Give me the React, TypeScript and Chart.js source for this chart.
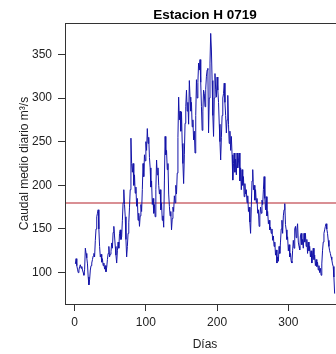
import { useEffect, useRef } from "react";
import { Chart, registerables } from "chart.js";

Chart.register(...registerables);

const TITLE = "Estacion H 0719";
const X_LABEL = "Días";
const Y_LABEL = "Caudal medio diario m³/s";
const X_TICKS = [0, 100, 200, 300];
const Y_TICKS = [100, 150, 200, 250, 300, 350];
const MEAN_LINE = 179.7;

// daily mean discharge, days 1..365
const CAUDAL = [
  110, 116, 108, 104, 100, 103, 107, 109, 105, 107, 103, 100, 97, 104, 128, 122, 117, 110, 95, 86,
  92, 103, 108, 111, 115, 119, 122, 118, 137, 150, 164, 168, 172, 150, 130,
  118, 121, 112, 116, 108, 111, 104, 108, 101, 106, 115, 122, 130, 118, 121,
  124, 134, 128, 146, 153, 142, 130, 120, 111, 125, 135, 128, 145, 149, 138,
  141, 160, 180, 195, 178, 164, 138, 118, 130, 145, 157, 175, 195, 254, 225,
  215, 225, 200, 212, 191, 198, 176, 185, 160, 168, 153, 165, 178, 170, 195,
  225, 210, 235, 228, 250, 240, 265, 248, 255, 232, 220, 198, 205, 178, 185,
  168, 178, 164, 195, 229, 212, 220, 200, 190, 195, 172, 180, 160, 165, 152,
  205, 256, 235, 240, 218, 225, 190, 176, 165, 170, 149, 162, 175, 170, 188,
  180, 200, 190, 214, 255, 301, 275, 285, 262, 284, 248, 225, 202, 235, 271,
  290, 309, 285, 295, 270, 320, 301, 285, 295, 267, 275, 252, 262, 237, 280,
  321, 300, 318, 340, 332, 344, 318, 290, 263, 285, 309, 305, 290, 310, 325,
  332, 334, 260, 300, 340, 374, 355, 320, 280, 256, 300, 328, 310, 301, 324,
  309, 295, 270, 250, 229, 255, 280, 300, 305, 317, 295, 280, 260, 275, 303,
  270, 248, 262, 240, 256, 235, 206, 225, 237, 215, 230, 212, 237, 220, 228,
  237, 205, 220, 195, 218, 200, 210, 187, 202, 190, 195, 180, 188, 170, 175,
  158, 145, 175, 205, 218, 195, 200, 183, 195, 180, 185, 168, 172, 153, 165,
  175, 168, 183, 178, 195, 210, 185, 172, 187, 165, 170, 156, 160, 149, 152,
  145, 150, 137, 142, 130, 135, 120, 126, 111, 118, 113, 130, 122, 135, 150,
  160, 145, 165, 172, 179, 155, 149, 138, 141, 125, 132, 118, 122, 113, 111,
  125, 137, 128, 150, 153, 140, 150, 156, 135, 130, 126, 142, 145, 132, 138,
  128, 145, 135, 145, 130, 138, 122, 135, 125, 130, 118, 125, 111, 120, 128,
  115, 120, 108, 115, 107, 112, 103, 108, 100, 105, 97, 110, 125, 135, 145,
  149, 153, 156, 150, 145, 137, 130, 125, 122, 118, 115, 110, 107, 95, 76,
];

const FONT = '"Liberation Sans", Arial, Helvetica, sans-serif';
const INK = "#222";
const AXIS = "#333";

export default function App() {
  const ref = useRef<HTMLCanvasElement>(null);

  useEffect(() => {
    if (!ref.current) return;
    const n = CAUDAL.length;
    const xr = n - 1;
    const xMin = 1 - 0.04 * xr;
    const xMax = n + 0.04 * xr;
    const yLo = Math.min(...CAUDAL);
    const yHi = Math.max(...CAUDAL);
    const yr = yHi - yLo;
    const yMin = yLo - 0.04 * yr;
    const yMax = yHi + 0.04 * yr;

    const boxPlugin = {
      id: "rbox",
      afterDraw(chart: any) {
        const { ctx, chartArea: a } = chart;
        ctx.save();
        ctx.strokeStyle = AXIS;
        ctx.lineWidth = 1;
        ctx.strokeRect(Math.round(a.left) + 0.5, Math.round(a.top) + 0.5, Math.round(a.right - a.left), Math.round(a.bottom - a.top));
        ctx.fillStyle = "#000";
        ctx.font = `bold 13.5px ${FONT}`;
        ctx.textAlign = "center";
        ctx.textBaseline = "alphabetic";
        ctx.fillText(TITLE, (a.left + a.right) / 2, 18.5);
        ctx.restore();
      },
    };

    const chart = new Chart(ref.current, {
      type: "line",
      data: {
        datasets: [
          {
            data: CAUDAL.map((v, i) => ({ x: i + 1, y: v })),
            borderColor: "#1414a8",
            borderWidth: 1,
            pointRadius: 0,
            tension: 0,
            fill: false,
          },
          {
            data: [
              { x: xMin, y: MEAN_LINE },
              { x: xMax, y: MEAN_LINE },
            ],
            borderColor: "#cd6a70",
            borderWidth: 1.5,
            pointRadius: 0,
            fill: false,
          },
        ],
      },
      options: {
        animation: false,
        responsive: false,
        devicePixelRatio: 1,
        layout: { padding: { top: 23, right: 0, bottom: 0, left: 0 } },
        plugins: { legend: { display: false }, title: { display: false }, tooltip: { enabled: false } },
        scales: {
          x: {
            type: "linear",
            min: xMin,
            max: xMax,
            afterBuildTicks: (s: any) => {
              s.ticks = X_TICKS.map((v) => ({ value: v }));
            },
            afterFit: (s: any) => {
              s.height = 50;
            },
            border: { display: false },
            grid: { drawOnChartArea: false, drawTicks: true, tickLength: 7, color: AXIS },
            ticks: { autoSkip: false, maxRotation: 0, padding: 4, color: INK, font: { family: FONT, size: 12 } },
            title: { display: true, text: X_LABEL, color: INK, font: { family: FONT, size: 12 }, padding: { top: 0, bottom: 2 } },
          },
          y: {
            type: "linear",
            min: yMin,
            max: yMax,
            afterBuildTicks: (s: any) => {
              s.ticks = Y_TICKS.map((v) => ({ value: v }));
            },
            afterFit: (s: any) => {
              s.width = 65;
            },
            border: { display: false },
            grid: { drawOnChartArea: false, drawTicks: true, tickLength: 7, color: AXIS },
            ticks: { autoSkip: false, padding: 6, color: INK, font: { family: FONT, size: 12 } },
            title: { display: true, text: Y_LABEL, color: INK, font: { family: FONT, size: 12 }, padding: { top: 17, bottom: 0 } },
          },
        },
      },
      plugins: [boxPlugin],
    });
    return () => chart.destroy();
  }, []);

  return (
    <div style={{ position: "fixed", left: 0, top: 0, width: 336, height: 354, overflow: "hidden", background: "#fff" }}>
      <canvas ref={ref} width={345} height={354} style={{ width: 345, height: 354, display: "block" }} />
    </div>
  );
}
